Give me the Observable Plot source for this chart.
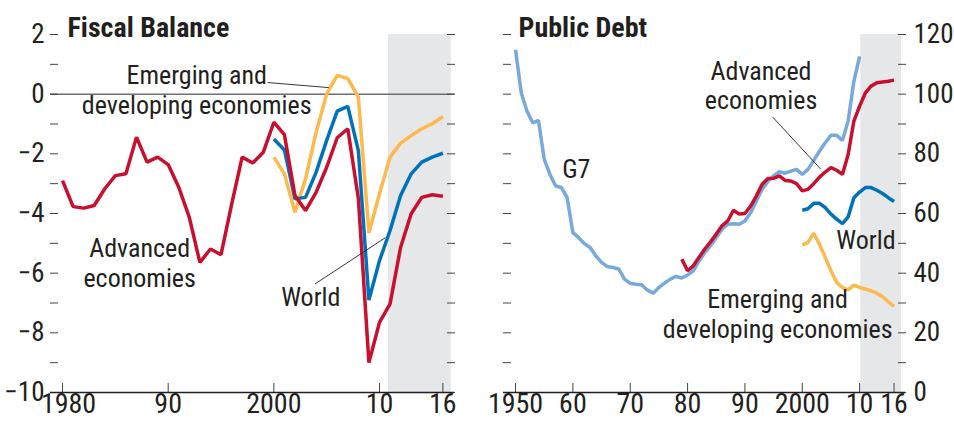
<!DOCTYPE html>
<html>
<head>
<meta charset="utf-8">
<script src="https://cdn.jsdelivr.net/npm/d3@7"></script>
<script src="https://cdn.jsdelivr.net/npm/@observablehq/plot@0.6"></script>
<style>
  html, body { margin: 0; padding: 0; background: #fff; }
  #wrap { display: flex; width: 954px; height: 421px; }
</style>
</head>
<body>
<div id="wrap"></div>
<script>
// ---------- Fiscal Balance (percent of GDP) ----------
const fbYearsAdv = [1980,1981,1982,1983,1984,1985,1986,1987,1988,1989,1990,1991,1992,1993,1994,1995,1996,1997,1998,1999,2000,2001,2002,2003,2004,2005,2006,2007,2008,2009,2010,2011,2012,2013,2014,2015,2016];
const fbAdvanced = [-2.9,-3.77,-3.82,-3.73,-3.17,-2.73,-2.67,-1.44,-2.28,-2.11,-2.36,-3.12,-4.13,-5.64,-5.19,-5.38,-3.7,-2.11,-2.31,-1.95,-0.94,-1.36,-3.4,-3.9,-3.29,-2.45,-1.46,-1.16,-3.5,-9.0,-7.65,-7.03,-5.13,-4.01,-3.46,-3.37,-3.42];
const fbYears2000 = [2000,2001,2002,2003,2004,2005,2006,2007,2008,2009,2010,2011,2012,2013,2014,2015,2016];
const fbWorld = [-1.5,-1.87,-3.51,-3.46,-2.62,-1.55,-0.57,-0.41,-1.89,-6.9,-5.58,-4.57,-3.4,-2.67,-2.28,-2.11,-1.98];
const fbEmerging = [-2.11,-2.67,-3.96,-2.84,-1.28,0.01,0.63,0.52,-0.1,-4.65,-3.34,-2.11,-1.64,-1.39,-1.16,-0.99,-0.75];
const fbYTicks = [-10,-9,-8,-7,-6,-5,-4,-3,-2,-1,0,1,2];
const fbYLabels = [-10,-8,-6,-4,-2,0,2];
const fbXTicks = [1980,1990,2000,2010,2016];
const fbXLabels = ["1980","90","2000","10","16"];
const fbProjection = [{from: 2010.85, to: 2016.8}];
const fbSeriesLabels = [
  {text: "Emerging and\ndeveloping economies", x: 1992.7, y: -0.65},
  {text: "Advanced\neconomies", x: 1987.3, y: -6.45},
  {text: "World", x: 2003.5, y: -7.09}
];
const fbLeaders = [
  {x1: 1999.4, y1: 0.39, x2: 2005.2, y2: 0.22},
  {x1: 2003.9, y1: -6.36, x2: 2010.56, y2: -4.81}
];

// ---------- Public Debt (percent of GDP) ----------
const pdYearsG7 = [1950,1951,1952,1953,1954,1955,1956,1957,1958,1959,1960,1961,1962,1963,1964,1965,1966,1967,1968,1969,1970,1971,1972,1973,1974,1975,1976,1977,1978,1979,1980,1981,1982,1983,1984,1985,1986,1987,1988,1989,1990,1991,1992,1993,1994,1995,1996,1997,1998,1999,2000,2001,2002,2003,2004,2005,2006,2007,2008,2009,2010];
const pdG7 = [114.9,100.4,94.3,90.4,91.2,78.2,73.1,69.2,68.7,65.3,53.6,51.9,49.9,48.6,45.8,43.6,42.2,41.9,41.4,38.0,36.6,36.3,36.1,34.3,33.3,35.2,36.7,38.0,38.9,38.4,39.4,40.8,44.1,46.9,49.2,51.9,54.7,56.4,56.6,56.4,57.5,60.3,64.2,68.1,70.7,72.6,74.0,73.5,74.2,74.8,73.1,74.8,77.8,80.9,83.7,86.2,86.2,84.5,91.0,104.3,112.7];
const pdYearsAdv = [1979,1980,1981,1982,1983,1984,1985,1986,1987,1988,1989,1990,1991,1992,1993,1994,1995,1996,1997,1998,1999,2000,2001,2002,2003,2004,2005,2006,2007,2008,2009,2010,2011,2012,2013,2014,2015,2016];
const pdAdvanced = [44.7,40.8,42.5,45.3,48.1,50.5,53.1,55.9,57.5,61.1,59.8,60.0,62.5,65.9,69.8,71.7,71.8,72.6,71.1,70.9,70.0,67.6,68.1,70.0,72.2,73.9,75.4,74.5,73.1,79.8,91.0,96.0,100.4,102.7,103.8,104.1,104.3,104.7];
const pdYears2000 = [2000,2001,2002,2003,2004,2005,2006,2007,2008,2009,2010,2011,2012,2013,2014,2015,2016];
const pdWorld = [61.1,61.6,63.4,63.4,62.0,59.8,58.1,56.6,58.9,65.3,67.2,68.7,68.7,67.8,66.7,65.3,64.0];
const pdEmerging = [49.4,50.3,53.4,49.7,45.3,40.8,36.9,35.2,34.4,36.0,35.2,34.7,34.1,33.3,32.1,30.4,28.9];
const pdYTicks = [0,10,20,30,40,50,60,70,80,90,100,110,120];
const pdYLabels = [0,20,40,60,80,100,120];
const pdXTicks = [1950,1960,1970,1980,1990,2000,2010,2016];
const pdXLabels = ["1950","60","70","80","90","2000","10","16"];
const pdProjection = [{from: 2010.2, to: 2017.3}];
const pdSeriesLabels = [
  {text: "G7", x: 1960.6, y: 71.9},
  {text: "Advanced\neconomies", x: 1992.8, y: 95.0},
  {text: "World", x: 2011.1, y: 48.2},
  {text: "Emerging and\ndeveloping economies", x: 1995.7, y: 18.4}
];
const pdLeaders = [
  {x1: 1994.85, y1: 92.3, x2: 2003.2, y2: 74.9}
];

// ---------- styling ----------
const FONT = '"Liberation Sans Narrow", "Arial Narrow", "Roboto Condensed", "DejaVu Sans Condensed", sans-serif';
const INK = "#231f20";
const RED = "#c8102e", BLUE = "#0072bc", YELLOW = "#fdb94e", LIGHTBLUE = "#78a9dc", SHADE = "#e6e7e8";
const LW = 3.5;
const FS_YTICK = 27, FS_XTICK = 28, FS_LABEL = 26, FS_TITLE = 28;

const toRows = (years, values) => years.map((year, i) => ({year, value: values[i]}));

function panel({title, titleDx, xDomain, yDomain, margins, yTicks, yLabels, yLabelAnchor, yTickPadding,
                xTicks, xLabels, firstXLabelDx, projection, series, labels, leaders, zeroLine}) {
  const xLabelOf = new Map(xTicks.map((t, i) => [t, xLabels[i]]));
  return Plot.plot({
    width: 477, height: 421,
    ...margins,
    style: {fontFamily: FONT, fontSize: "26px", color: INK, background: "white", overflow: "visible"},
    x: {domain: xDomain},
    y: {domain: yDomain},
    marks: [
      Plot.rect(projection, {x1: "from", x2: "to", fill: SHADE}),
      zeroLine ? Plot.ruleY([0], {stroke: "#6d6e71", strokeWidth: 1.5}) : null,
      // inward tick marks on both sides
      Plot.axisY(yTicks, {anchor: "left", tickSize: -8, fill: "none", stroke: "#444", label: null}),
      Plot.axisY(yTicks, {anchor: "right", tickSize: -8, fill: "none", stroke: "#444", label: null}),
      Plot.axisY(yLabels, {anchor: yLabelAnchor, tickSize: 0, tickPadding: yTickPadding, fill: INK, label: null, fontSize: FS_YTICK}),
      Plot.axisX(xTicks, {anchor: "bottom", tickSize: -9, fill: "none", stroke: "#444", label: null}),
      Plot.axisX(xTicks.slice(0, 1), {anchor: "bottom", tickSize: 0, tickPadding: 1, dx: firstXLabelDx, tickFormat: d => xLabelOf.get(d), fill: INK, label: null, fontSize: FS_XTICK}),
      Plot.axisX(xTicks.slice(1), {anchor: "bottom", tickSize: 0, tickPadding: 1, tickFormat: d => xLabelOf.get(d), fill: INK, label: null, fontSize: FS_XTICK}),
      Plot.ruleY([yDomain[0]], {stroke: INK, strokeWidth: 1.5}),
      ...series.map(s => Plot.line(s.rows, {x: "year", y: "value", stroke: s.color, strokeWidth: LW, strokeLinejoin: "miter", strokeLinecap: "butt"})),
      Plot.link(leaders, {x1: "x1", y1: "y1", x2: "x2", y2: "y2", stroke: INK, strokeWidth: 0.9}),
      Plot.text(labels, {x: "x", y: "y", text: "text", textAnchor: "middle", lineAnchor: "bottom", lineHeight: 1.12, fill: INK, fontSize: FS_LABEL}),
      Plot.text([title], {text: d => d, frameAnchor: "top-left", dx: titleDx, dy: 2, lineAnchor: "bottom", textAnchor: "start", fontWeight: "bold", fontSize: FS_TITLE, fill: INK})
    ]
  });
}

const left = panel({
  title: "Fiscal Balance", titleDx: 17,
  xDomain: [1978.86, 2017.1], yDomain: [-10, 2],
  margins: {marginLeft: 50, marginRight: 23, marginTop: 34, marginBottom: 29},
  yTicks: fbYTicks, yLabels: fbYLabels, yLabelAnchor: "left", yTickPadding: 6,
  xTicks: fbXTicks, xLabels: fbXLabels, firstXLabelDx: 6, projection: fbProjection,
  series: [
    {rows: toRows(fbYears2000, fbEmerging), color: YELLOW},
    {rows: toRows(fbYears2000, fbWorld), color: BLUE},
    {rows: toRows(fbYearsAdv, fbAdvanced), color: RED}
  ],
  labels: fbSeriesLabels, leaders: fbLeaders, zeroLine: true
});

const right = panel({
  title: "Public Debt", titleDx: 15,
  xDomain: [1947.9, 2018.0], yDomain: [0, 120],
  margins: {marginLeft: 26, marginRight: 49, marginTop: 34, marginBottom: 29},
  yTicks: pdYTicks, yLabels: pdYLabels, yLabelAnchor: "right", yTickPadding: 8,
  xTicks: pdXTicks, xLabels: pdXLabels, firstXLabelDx: 0, projection: pdProjection,
  series: [
    {rows: toRows(pdYearsG7, pdG7), color: LIGHTBLUE},
    {rows: toRows(pdYears2000, pdEmerging), color: YELLOW},
    {rows: toRows(pdYears2000, pdWorld), color: BLUE},
    {rows: toRows(pdYearsAdv, pdAdvanced), color: RED}
  ],
  labels: pdSeriesLabels, leaders: pdLeaders, zeroLine: false
});

document.getElementById("wrap").append(left, right);
</script>
</body>
</html>
